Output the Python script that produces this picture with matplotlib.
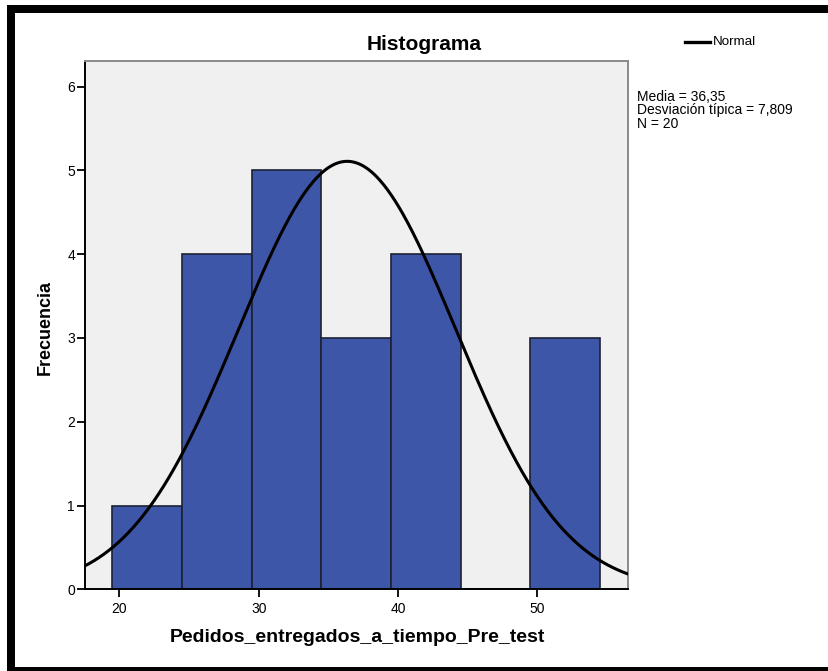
import numpy as np
import matplotlib
matplotlib.use("Agg")
import matplotlib.pyplot as plt
from matplotlib.patches import Rectangle

# Histogram data: bin edges and frequencies
bin_edges = [19.5, 24.5, 29.5, 34.5, 39.5, 44.5, 49.5, 54.5]
frequencies = [1, 4, 5, 3, 4, 0, 3]
x_ticks = [20, 30, 40, 50]
y_ticks = [0, 1, 2, 3, 4, 5, 6]

# Summary statistics
mean = 36.35
std = 7.809
n = 20

plt.rcParams['font.family'] = ['Liberation Sans', 'DejaVu Sans']

W, H = 829, 671
fig = plt.figure(figsize=(W / 100, H / 100), dpi=100)
ax = fig.add_axes([85.5 / W, 81.7 / H, 542 / W, 528.6 / H])
ax.set_facecolor('#F0F0F0')

widths = np.diff(bin_edges)
ax.bar(bin_edges[:-1], frequencies, width=widths, align='edge',
       color='#3D56A8', edgecolor='#1C2233', linewidth=1.2, zorder=2)

# Normal curve scaled to counts
bw = bin_edges[1] - bin_edges[0]
xs = np.linspace(15, 60, 500)
ys = n * bw / (std * np.sqrt(2 * np.pi)) * np.exp(-0.5 * ((xs - mean) / std) ** 2)
ax.plot(xs, ys, color='black', linewidth=2.2, zorder=3)

ax.set_xlim(17.57, 56.47)
ax.set_ylim(0, 6.31)
ax.set_xticks(x_ticks)
ax.set_yticks(y_ticks)
ax.tick_params(axis='both', direction='out', length=6, width=1.3,
               labelsize=10, colors='black')
ax.tick_params(axis='y', pad=1.5)
ax.tick_params(axis='x', pad=3)
for side in ('left', 'bottom'):
    ax.spines[side].set_color('black')
    ax.spines[side].set_linewidth(1.4)
for side in ('top', 'right'):
    ax.spines[side].set_color('#8A8A8A')
    ax.spines[side].set_linewidth(1.4)

fig.text(424 / W, 1 - 44 / H, 'Histograma', ha='center', va='center',
         fontsize=15, fontweight='bold')
fig.text(357 / W, 1 - 638 / H, 'Pedidos_entregados_a_tiempo_Pre_test',
         ha='center', va='center', fontsize=14, fontweight='bold')
fig.text(45 / W, 1 - 328 / H, 'Frecuencia', ha='center', va='center',
         rotation=90, fontsize=13, fontweight='bold')

# Legend entry
fig.add_artist(plt.Line2D([685 / W, 710 / W], [1 - 42 / H, 1 - 42 / H],
                          color='black', linewidth=2.4))
fig.text(713 / W, 1 - 42 / H, 'Normal', ha='left', va='center', fontsize=9.6)

stats = f"Media = {mean:.2f}".replace('.', ',') + "\n" + \
        f"Desviación típica = {std:.3f}".replace('.', ',') + "\n" + \
        f"N = {n}"
fig.text(637 / W, 1 - 90 / H, stats, ha='left', va='top', fontsize=10,
         linespacing=0.95)

# Frame around the figure
fig.add_artist(Rectangle((7 / W, 1 - 13 / H), 1 - 7 / W, 8 / H,
                         transform=fig.transFigure, color='black', lw=0))
fig.add_artist(Rectangle((7 / W, 0), 8 / W, 1 - 5 / H,
                         transform=fig.transFigure, color='black', lw=0))
fig.add_artist(Rectangle((7 / W, 0), 1 - 7 / W, 4.5 / H,
                         transform=fig.transFigure, color='black', lw=0))

fig.savefig('out.png', dpi=100)
